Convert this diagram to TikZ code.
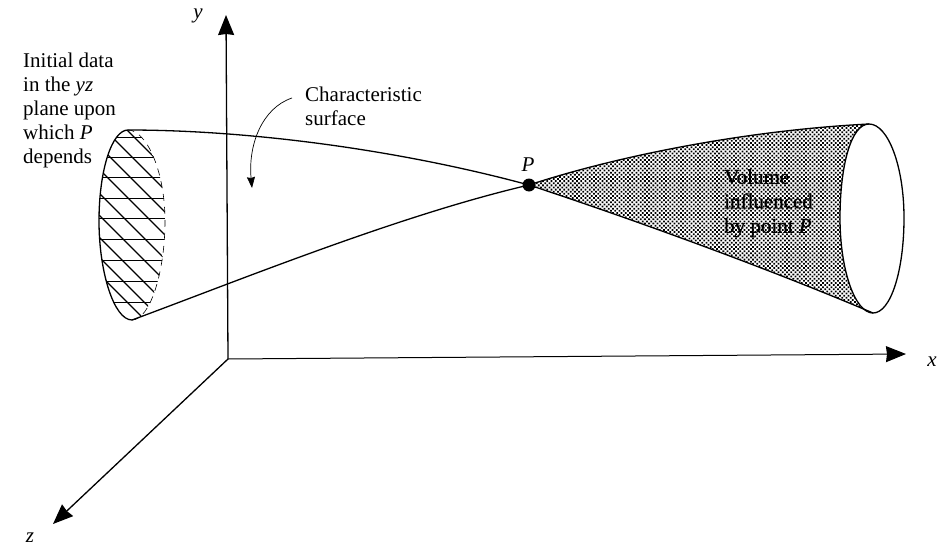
\documentclass[tikz,border=0pt]{standalone}
\usepackage{fontspec}
\setmainfont{Liberation Serif}
\newfontfamily\volfont[FakeBold=0.6,ItalicFont={Liberation Serif Italic},ItalicFeatures={FakeBold=0.6}]{Liberation Serif}
\usetikzlibrary{arrows.meta,patterns.meta}
\tikzset{
  axisline/.style={line width=1.3pt,-{Stealth[length=20pt,width=16pt,inset=1pt]}},
  edgeline/.style={line width=1.3pt},
  hatchh/.style={line width=0.6pt},
  hatchd/.style={line width=1.1pt},
  lbl/.style={inner sep=0pt,font=\fontsize{21}{24}\selectfont,align=left},
  axislbl/.style={inner sep=0pt,font=\fontsize{21}{24}\selectfont\itshape}
}
\begin{document}
\begin{tikzpicture}[x=1pt,y=-1pt]
\useasboundingbox (0,0) rectangle (945,546);
% named points
\coordinate (O) at (228,359);
\coordinate (Ytip) at (226,15);
\coordinate (Xtip) at (906,354);
\coordinate (Ztip) at (53,524);
\coordinate (LT) at (128,130);
\coordinate (LB) at (132,320);
\coordinate (RT) at (869,124);
\coordinate (RB) at (873,313);
\coordinate (PP) at (529,185);
\coordinate (ArrS) at (292,98);
\coordinate (ArrE) at (252,188);
% shaded volume
\fill[white] (PP) .. controls (620,155) and (750,130) .. (RT)
  -- (RB) .. controls (760,265) and (620,215) .. (PP) -- cycle;
\fill[pattern={Dots[distance=3pt,radius=1.25pt,angle=45]},pattern color=black]
  (PP) .. controls (620,155) and (750,130) .. (RT)
  -- (RB) .. controls (760,265) and (620,215) .. (PP) -- cycle;
\draw[edgeline,fill=white] (RT) .. controls (888,124) and (904,166) .. (904,218)
   .. controls (904,270) and (891,313) .. (RB)
   .. controls (855,313) and (840,270) .. (840,218)
   .. controls (840,166) and (851,124) .. (RT) -- cycle;
\draw[edgeline] (PP) .. controls (620,155) and (750,130) .. (RT);
\draw[edgeline] (PP) .. controls (620,215) and (760,265) .. (RB);
% hatching of the initial data
\begin{scope}
\clip (LT) .. controls (112,130) and (99,170) .. (99,221)
   .. controls (99,272) and (114,320) .. (LB)
   .. controls (150,320) and (165,272) .. (165,221)
   .. controls (165,170) and (146,130) .. (LT);
\foreach \y in {137,157,177,198,218,239,260,281,302}
  \draw[hatchh] (90,\y) -- (180,\y);
\foreach \c in {-3,-25,-47,-70,-94,-116,-138,-158,-175}
  \draw[hatchd] (90,90-\c) -- (190,190-\c);
\end{scope}
\draw[edgeline] (LT) .. controls (112,130) and (99,170) .. (99,221)
   .. controls (99,272) and (114,320) .. (LB);
\draw[hatchh,dash pattern=on 7pt off 6pt] (LB) .. controls (150,320) and (165,272) .. (165,221)
   .. controls (165,170) and (146,130) .. (LT);
% characteristic curves
\draw[edgeline] (LT) .. controls (250,130) and (400,150) .. (PP);
\draw[edgeline] (LB) .. controls (240,280) and (400,215) .. (PP);
% axes
\draw[axisline] (O) -- (Ytip);
\draw[axisline,line width=1pt] (O) -- (Xtip);
\draw[axisline] (O) -- (Ztip);
% point P
\node[circle,fill=black,inner sep=0pt,minimum size=13pt] (Pdot) at (PP) {};
\node[axislbl] (Plbl) at (528,165) {P};
% labels
\node[axislbl] (ylbl) at (198,16) {y};
\node[axislbl] (xlbl) at (932,362) {x};
\node[axislbl] (zlbl) at (30,538) {z};
\node[lbl,anchor=north west] (datalbl) at (23,53) {Initial data\\in the \textit{yz}\\plane upon\\which \textit{P}\\depends};
\node[lbl,anchor=north west] (charlbl) at (305,87) {Characteristic\\surface};
\node[lbl,anchor=north west,font=\fontsize{21}{24.5}\selectfont\volfont] (vollbl) at (724,169) {Volume\\influenced\\by point \textit{P}};
% pointer
\draw[line width=0.7pt,-{Stealth[length=11pt,width=8pt,inset=1pt]}] (ArrS) .. controls (262,108) and (248,145) .. (ArrE);
\end{tikzpicture}
\end{document}
